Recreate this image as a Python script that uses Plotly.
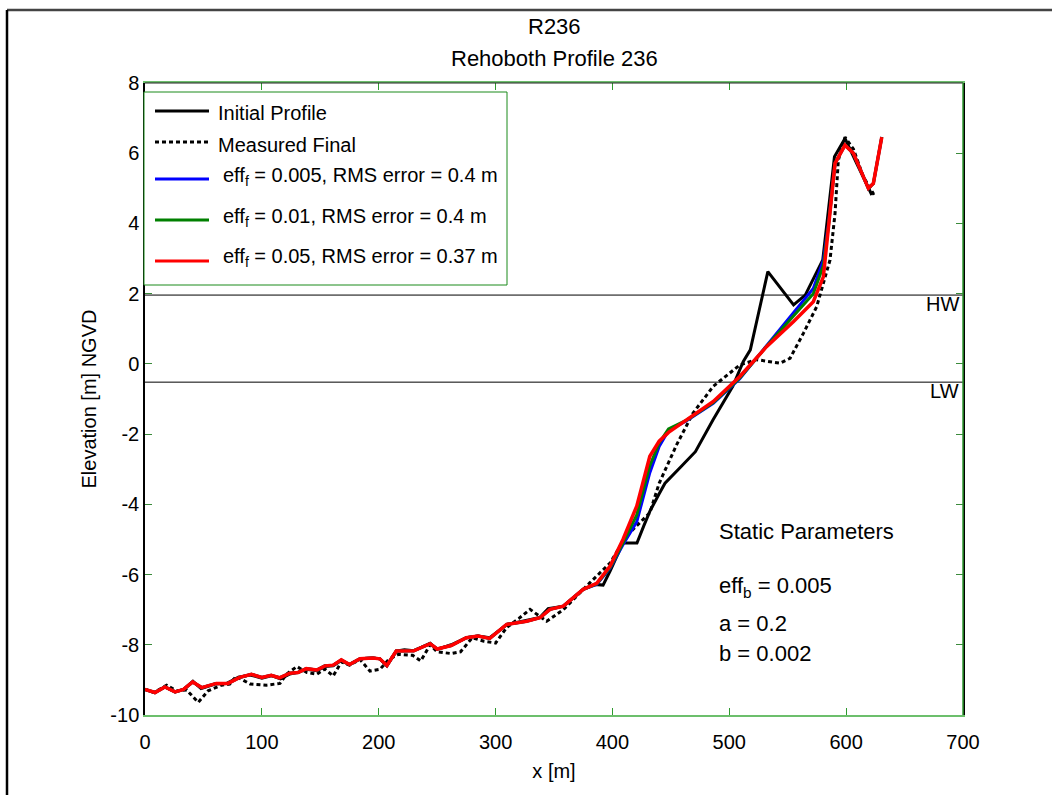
import plotly.graph_objects as go

# ---------------- data ----------------
init_x = [0, 8, 17, 26, 33, 41, 48, 60, 70, 80, 90, 100, 108, 116, 124, 131, 138, 147, 154, 161, 168, 175, 184, 195, 201, 207, 215, 222, 230, 244, 250, 262, 275, 285, 295, 310, 320, 327, 338, 345, 358, 375, 385, 392, 398, 409, 421, 427, 432, 440, 445, 458, 471, 486, 503, 512, 518, 533, 555, 565, 580, 590, 599, 609, 622]
init_y = [-9.27, -9.36, -9.2, -9.34, -9.27, -9.04, -9.25, -9.12, -9.1, -8.92, -8.86, -8.95, -8.88, -8.97, -8.83, -8.78, -8.7, -8.74, -8.62, -8.6, -8.45, -8.57, -8.4, -8.38, -8.4, -8.6, -8.18, -8.14, -8.17, -7.96, -8.13, -8.0, -7.8, -7.75, -7.8, -7.42, -7.35, -7.3, -7.22, -6.97, -6.9, -6.42, -6.28, -6.3, -5.9, -5.1, -5.1, -4.6, -4.2, -3.7, -3.4, -2.95, -2.5, -1.6, -0.64, 0.07, 0.4, 2.63, 1.68, 1.96, 2.96, 5.9, 6.42, 5.71, 4.81]

meas_x = [0, 8, 18.5, 27, 35.7, 45.6, 54, 65.5, 72.5, 78, 90, 104, 115.5, 121, 130, 138.6, 147, 154, 161, 168, 175, 184, 192.5, 201, 208.5, 217, 229, 236, 244, 250, 262, 270, 280, 290, 300, 309.5, 320, 329.5, 343.7, 358, 380.8, 398, 412, 426.4, 432, 440, 455, 469, 486.3, 509, 523.4, 543.4, 552, 563.4, 574.8, 586.2, 590.5, 593.3, 599, 606.2, 614.7, 623.3, 626]
meas_y = [-9.27, -9.36, -9.15, -9.31, -9.29, -9.64, -9.31, -9.15, -9.12, -8.9, -9.12, -9.15, -9.1, -8.84, -8.62, -8.79, -8.84, -8.69, -8.89, -8.49, -8.58, -8.42, -8.75, -8.7, -8.42, -8.27, -8.3, -8.46, -8.0, -8.2, -8.25, -8.2, -7.8, -7.9, -7.95, -7.51, -7.25, -6.99, -7.33, -7.0, -6.23, -5.67, -4.9, -4.43, -4.24, -3.4, -2.3, -1.4, -0.64, -0.03, 0.12, 0.02, 0.16, 0.87, 1.63, 2.96, 4.29, 5.8, 6.46, 6.12, 5.33, 4.85, 4.9]

# model run eff_f = 0.05 (red)
red_x = [0, 8.6, 17, 25.7, 33, 40.8, 48.5, 61, 71, 81, 91, 100, 108, 115, 124, 131, 138, 147, 154, 161, 168, 175, 184, 195, 201, 207, 215, 230, 244, 250, 262, 275, 285, 295, 309.5, 326.6, 338, 346.6, 358, 375, 386.5, 398, 409, 420.8, 432, 440, 448, 463.5, 486.3, 509, 531.9, 554.8, 571.9, 580.5, 584.8, 590.5, 599, 606.2, 619, 623.3, 630.5]
red_y = [-9.27, -9.36, -9.2, -9.34, -9.27, -9.06, -9.22, -9.1, -9.1, -8.93, -8.84, -8.93, -8.87, -8.94, -8.81, -8.79, -8.68, -8.72, -8.6, -8.58, -8.43, -8.56, -8.4, -8.38, -8.4, -8.59, -8.18, -8.17, -7.97, -8.12, -8.02, -7.8, -7.75, -7.82, -7.42, -7.33, -7.23, -6.99, -6.9, -6.42, -6.25, -5.76, -5.0, -4.05, -2.63, -2.2, -1.95, -1.59, -1.07, -0.36, 0.49, 1.2, 1.77, 2.48, 3.81, 5.71, 6.23, 6.0, 5.0, 5.14, 6.46]

# model run eff_f = 0.01 (green)
green_x = red_x
green_y = [-9.27, -9.36, -9.2, -9.34, -9.27, -9.06, -9.22, -9.1, -9.1, -8.93, -8.84, -8.93, -8.87, -8.94, -8.81, -8.79, -8.68, -8.72, -8.6, -8.58, -8.43, -8.56, -8.4, -8.38, -8.4, -8.59, -8.18, -8.17, -7.97, -8.12, -8.02, -7.8, -7.75, -7.82, -7.42, -7.33, -7.23, -6.99, -6.9, -6.42, -6.27, -5.8, -5.1, -4.3, -2.9, -2.25, -1.85, -1.6, -1.1, -0.4, 0.5, 1.35, 2.0, 2.8, 3.9, 5.71, 6.23, 6.0, 5.0, 5.14, 6.46]

# model run eff_f = 0.005 (blue)
blue_x = red_x
blue_y = [-9.27, -9.36, -9.2, -9.34, -9.27, -9.06, -9.22, -9.1, -9.1, -8.93, -8.84, -8.93, -8.87, -8.94, -8.81, -8.79, -8.68, -8.72, -8.6, -8.58, -8.43, -8.56, -8.4, -8.38, -8.4, -8.59, -8.18, -8.17, -7.97, -8.12, -8.02, -7.8, -7.75, -7.82, -7.42, -7.33, -7.23, -6.99, -6.9, -6.42, -6.28, -5.82, -5.15, -4.5, -3.1, -2.35, -1.9, -1.62, -1.12, -0.42, 0.52, 1.45, 2.15, 2.95, 3.95, 5.71, 6.23, 6.0, 5.0, 5.14, 6.46]

hw_level = 1.96
lw_level = -0.52

legend_labels = ["Initial Profile", "Measured Final",
                 "eff<sub>f</sub> = 0.005, RMS error = 0.4 m",
                 "eff<sub>f</sub> = 0.01, RMS error = 0.4 m",
                 "eff<sub>f</sub> = 0.05, RMS error = 0.37 m"]
static_lines = ["Static Parameters", "eff<sub>b</sub> = 0.005", "a = 0.2", "b = 0.002"]

x_ticks = [0, 100, 200, 300, 400, 500, 600, 700]
y_ticks = [-10, -8, -6, -4, -2, 0, 2, 4, 6, 8]

# ---------------- layout geometry (pixels) ----------------
W, H = 1052, 795
L, R, T, B = 145, 963, 83, 715
PW, PH = R - L, B - T
def px(x): return (x - L) / PW
def py(y): return (B - y) / PH

FONT = "Liberation Sans, Arial, sans-serif"
BLUE, GREEN, RED = "#0000ff", "#008000", "#ff0000"
AXG = "#2f9a2f"

fig = go.Figure()
lw = 3
fig.add_trace(go.Scatter(x=init_x, y=init_y, mode="lines", line=dict(color="black", width=lw), showlegend=False))
fig.add_trace(go.Scatter(x=meas_x, y=meas_y, mode="lines", line=dict(color="black", width=lw, dash="4px,3px"), showlegend=False))
fig.add_trace(go.Scatter(x=blue_x, y=blue_y, mode="lines", line=dict(color=BLUE, width=lw), showlegend=False))
fig.add_trace(go.Scatter(x=green_x, y=green_y, mode="lines", line=dict(color=GREEN, width=lw), showlegend=False))
fig.add_trace(go.Scatter(x=red_x, y=red_y, mode="lines", line=dict(color=RED, width=3.5), showlegend=False))

shapes = []
# HW / LW lines
for lvl in (hw_level, lw_level):
    shapes.append(dict(type="line", xref="x", yref="y", x0=0, x1=700, y0=lvl, y1=lvl,
                       line=dict(color="black", width=1), layer="below"))
# top axis line (dark) and right axis line (green)
shapes.append(dict(type="line", xref="paper", yref="paper", x0=0, x1=1, y0=1, y1=1, line=dict(color="#222", width=1.2)))
shapes.append(dict(type="line", xref="paper", yref="paper", x0=1, x1=1, y0=0, y1=1, line=dict(color=AXG, width=1.5)))
# outer frame
shapes.append(dict(type="line", xref="paper", yref="paper", x0=px(7), x1=px(W + 5), y0=py(10), y1=py(10), line=dict(color="#444", width=2.5)))
shapes.append(dict(type="line", xref="paper", yref="paper", x0=px(7), x1=px(7), y0=py(10), y1=py(W), line=dict(color="black", width=2.5)))
# legend box
shapes.append(dict(type="rect", xref="paper", yref="paper", x0=px(144), x1=px(507), y0=py(92), y1=py(285),
                   line=dict(color="#1a8a1a", width=1), fillcolor="white"))

annotations = []
leg_line_y = [111, 142, 179, 220, 261]
leg_text_y = [113, 145, 176, 217, 257]
leg_text_x = [216, 216, 221, 221, 221]
leg_styles = [("black", None), ("black", "4px,3px"), (BLUE, None), (GREEN, None), (RED, None)]
for i, lab in enumerate(legend_labels):
    col, dash = leg_styles[i]
    ln = dict(color=col, width=3)
    if dash:
        ln["dash"] = dash
    shapes.append(dict(type="line", xref="paper", yref="paper", x0=px(155), x1=px(209),
                       y0=py(leg_line_y[i]), y1=py(leg_line_y[i]), line=ln))
    annotations.append(dict(text=lab, xref="paper", yref="paper", x=px(leg_text_x[i]), y=py(leg_text_y[i]),
                            xanchor="left", yanchor="middle", showarrow=False,
                            font=dict(family=FONT, size=20, color="black")))

# titles
annotations.append(dict(text="R236", xref="paper", yref="paper", x=px(554), y=py(27), xanchor="center", yanchor="middle",
                        showarrow=False, font=dict(family=FONT, size=22, color="black")))
annotations.append(dict(text="Rehoboth Profile 236", xref="paper", yref="paper", x=px(554), y=py(58), xanchor="center",
                        yanchor="middle", showarrow=False, font=dict(family=FONT, size=22, color="black")))
# HW / LW labels
annotations.append(dict(text="HW", xref="paper", yref="y", x=px(961), y=hw_level, xanchor="right", yanchor="top",
                        yshift=4, showarrow=False, font=dict(family=FONT, size=20, color="black")))
annotations.append(dict(text="LW", xref="paper", yref="y", x=px(961), y=lw_level, xanchor="right", yanchor="top",
                        yshift=4, showarrow=False, font=dict(family=FONT, size=20, color="black")))
# static parameters
st_y = [531, 587, 623, 653]
for t, yy in zip(static_lines, st_y):
    annotations.append(dict(text=t, xref="paper", yref="paper", x=px(717), y=py(yy), xanchor="left", yanchor="middle",
                            showarrow=False, font=dict(family=FONT, size=22, color="black")))

fig.update_layout(
    width=W, height=H,
    margin=dict(l=L, r=W - R, t=T, b=H - B, pad=0),
    paper_bgcolor="white", plot_bgcolor="white",
    font=dict(family=FONT, size=20, color="black"),
    shapes=shapes, annotations=annotations,
    showlegend=False,
    xaxis=dict(range=[0, 700], tickvals=x_ticks, ticktext=[str(v) for v in x_ticks],
               showgrid=False, zeroline=False, showline=True, linecolor="#6cbf6c", linewidth=1.5,
               mirror="ticks", ticks="inside", ticklen=7, tickcolor=AXG, tickwidth=1,
               ticklabelstandoff=8,
               tickfont=dict(family=FONT, size=20, color="black"),
               title=dict(text="x [m]", font=dict(family=FONT, size=20, color="black"), standoff=12)),
    yaxis=dict(range=[-10, 8], tickvals=y_ticks, ticktext=[str(v) for v in y_ticks],
               showgrid=False, zeroline=False, showline=True, linecolor="black", linewidth=1.5,
               mirror="ticks", ticks="inside", ticklen=7, tickcolor="#3a8a3a", tickwidth=1,
               tickfont=dict(family=FONT, size=20, color="black"),
               title=dict(text="Elevation [m] NGVD", font=dict(family=FONT, size=20, color="black"), standoff=8)),
)

fig.write_html("out.html")
